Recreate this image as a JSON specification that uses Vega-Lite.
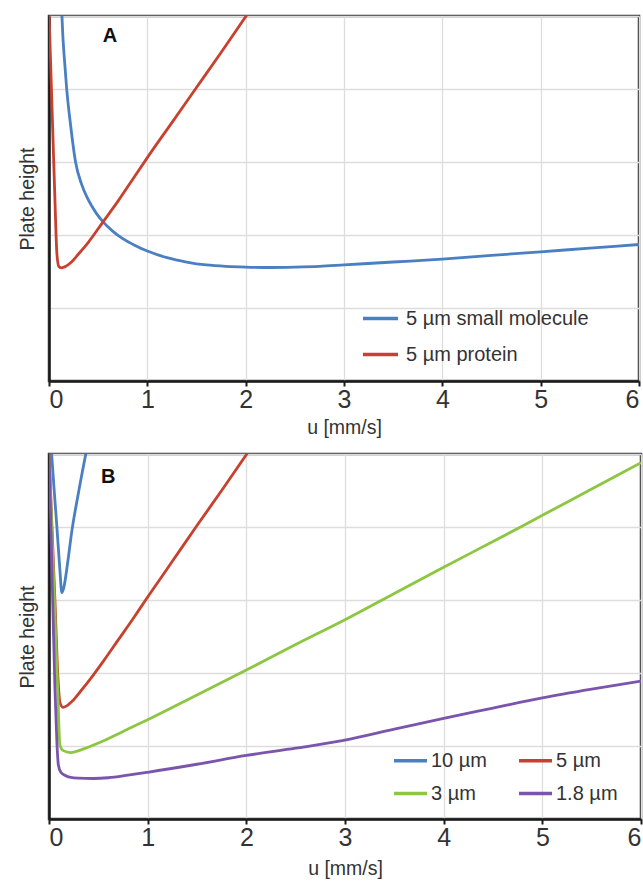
{
  "$schema": "https://vega.github.io/schema/vega-lite/v6.json",
  "padding": {"left": 15, "top": 14, "right": 2, "bottom": 0},
  "background": "white",
  "config": {
    "font": "Liberation Sans",
    "view": {"stroke": "#3a3a3a", "strokeWidth": 2.5},
    "axis": {
      "domainColor": "#1a1a1a", "domainWidth": 2.5,
      "gridColor": "#dddddd", "gridWidth": 1.3,
      "tickColor": "#1a1a1a", "tickWidth": 2, "tickSize": 5,
      "labelFont": "Liberation Sans", "labelFontSize": 25, "labelColor": "#333333", "labelPadding": 1,
      "titleFont": "Liberation Sans", "titleFontSize": 19.5, "titleFontWeight": "normal", "titleColor": "#333333"
    },
    "legend": {
      "labelFont": "Liberation Sans", "labelFontSize": 20, "labelColor": "#333333", "labelLimit": 400,
      "symbolType": "stroke", "symbolStrokeWidth": 3.5, "padding": 0, "title": null
    }
  },
  "datasets": {
    "curves": [
      {"panel": "A", "series": "5 µm small molecule", "u": 0.125, "H": 5.2},
      {"panel": "A", "series": "5 µm small molecule", "u": 0.14, "H": 4.75},
      {"panel": "A", "series": "5 µm small molecule", "u": 0.16, "H": 4.35},
      {"panel": "A", "series": "5 µm small molecule", "u": 0.18, "H": 4.0},
      {"panel": "A", "series": "5 µm small molecule", "u": 0.22, "H": 3.5},
      {"panel": "A", "series": "5 µm small molecule", "u": 0.27, "H": 3.0},
      {"panel": "A", "series": "5 µm small molecule", "u": 0.33, "H": 2.7},
      {"panel": "A", "series": "5 µm small molecule", "u": 0.4, "H": 2.48},
      {"panel": "A", "series": "5 µm small molecule", "u": 0.48, "H": 2.3},
      {"panel": "A", "series": "5 µm small molecule", "u": 0.55, "H": 2.18},
      {"panel": "A", "series": "5 µm small molecule", "u": 0.65, "H": 2.05},
      {"panel": "A", "series": "5 µm small molecule", "u": 0.75, "H": 1.95},
      {"panel": "A", "series": "5 µm small molecule", "u": 0.87, "H": 1.86},
      {"panel": "A", "series": "5 µm small molecule", "u": 1.0, "H": 1.78},
      {"panel": "A", "series": "5 µm small molecule", "u": 1.2, "H": 1.69},
      {"panel": "A", "series": "5 µm small molecule", "u": 1.4, "H": 1.63},
      {"panel": "A", "series": "5 µm small molecule", "u": 1.6, "H": 1.59},
      {"panel": "A", "series": "5 µm small molecule", "u": 1.8, "H": 1.57},
      {"panel": "A", "series": "5 µm small molecule", "u": 2.0, "H": 1.56},
      {"panel": "A", "series": "5 µm small molecule", "u": 2.25, "H": 1.555},
      {"panel": "A", "series": "5 µm small molecule", "u": 2.5, "H": 1.56},
      {"panel": "A", "series": "5 µm small molecule", "u": 2.75, "H": 1.57},
      {"panel": "A", "series": "5 µm small molecule", "u": 3.0, "H": 1.59},
      {"panel": "A", "series": "5 µm small molecule", "u": 3.5, "H": 1.63},
      {"panel": "A", "series": "5 µm small molecule", "u": 4.0, "H": 1.67},
      {"panel": "A", "series": "5 µm small molecule", "u": 4.5, "H": 1.72},
      {"panel": "A", "series": "5 µm small molecule", "u": 5.0, "H": 1.77},
      {"panel": "A", "series": "5 µm small molecule", "u": 5.5, "H": 1.82},
      {"panel": "A", "series": "5 µm small molecule", "u": 6.0, "H": 1.87},
      {"panel": "A", "series": "5 µm protein", "u": 0.0, "H": 5.05},
      {"panel": "A", "series": "5 µm protein", "u": 0.02, "H": 4.2},
      {"panel": "A", "series": "5 µm protein", "u": 0.04, "H": 3.35},
      {"panel": "A", "series": "5 µm protein", "u": 0.06, "H": 2.5},
      {"panel": "A", "series": "5 µm protein", "u": 0.08, "H": 1.75},
      {"panel": "A", "series": "5 µm protein", "u": 0.1, "H": 1.57},
      {"panel": "A", "series": "5 µm protein", "u": 0.13, "H": 1.55},
      {"panel": "A", "series": "5 µm protein", "u": 0.17, "H": 1.57},
      {"panel": "A", "series": "5 µm protein", "u": 0.22, "H": 1.62},
      {"panel": "A", "series": "5 µm protein", "u": 0.3, "H": 1.74},
      {"panel": "A", "series": "5 µm protein", "u": 0.4, "H": 1.9},
      {"panel": "A", "series": "5 µm protein", "u": 0.55, "H": 2.18},
      {"panel": "A", "series": "5 µm protein", "u": 0.7, "H": 2.46},
      {"panel": "A", "series": "5 µm protein", "u": 0.85, "H": 2.76},
      {"panel": "A", "series": "5 µm protein", "u": 1.0, "H": 3.06},
      {"panel": "A", "series": "5 µm protein", "u": 1.25, "H": 3.54},
      {"panel": "A", "series": "5 µm protein", "u": 1.5, "H": 4.02},
      {"panel": "A", "series": "5 µm protein", "u": 1.75, "H": 4.5},
      {"panel": "A", "series": "5 µm protein", "u": 2.03, "H": 5.05},
      {"panel": "B", "series": "10 µm", "u": 0.02, "H": 5.13},
      {"panel": "B", "series": "10 µm", "u": 0.05, "H": 4.55},
      {"panel": "B", "series": "10 µm", "u": 0.08, "H": 4.0},
      {"panel": "B", "series": "10 µm", "u": 0.11, "H": 3.42},
      {"panel": "B", "series": "10 µm", "u": 0.13, "H": 3.1},
      {"panel": "B", "series": "10 µm", "u": 0.15, "H": 3.17},
      {"panel": "B", "series": "10 µm", "u": 0.19, "H": 3.52},
      {"panel": "B", "series": "10 µm", "u": 0.23, "H": 3.93},
      {"panel": "B", "series": "10 µm", "u": 0.3, "H": 4.48},
      {"panel": "B", "series": "10 µm", "u": 0.38, "H": 5.05},
      {"panel": "B", "series": "5 µm", "u": 0.0, "H": 5.05},
      {"panel": "B", "series": "5 µm", "u": 0.03, "H": 4.0},
      {"panel": "B", "series": "5 µm", "u": 0.06, "H": 3.0},
      {"panel": "B", "series": "5 µm", "u": 0.09, "H": 1.95},
      {"panel": "B", "series": "5 µm", "u": 0.11, "H": 1.6},
      {"panel": "B", "series": "5 µm", "u": 0.14, "H": 1.53},
      {"panel": "B", "series": "5 µm", "u": 0.18, "H": 1.55},
      {"panel": "B", "series": "5 µm", "u": 0.24, "H": 1.62},
      {"panel": "B", "series": "5 µm", "u": 0.32, "H": 1.75},
      {"panel": "B", "series": "5 µm", "u": 0.42, "H": 1.92},
      {"panel": "B", "series": "5 µm", "u": 0.55, "H": 2.16},
      {"panel": "B", "series": "5 µm", "u": 0.7, "H": 2.45},
      {"panel": "B", "series": "5 µm", "u": 0.85, "H": 2.74},
      {"panel": "B", "series": "5 µm", "u": 1.0, "H": 3.04},
      {"panel": "B", "series": "5 µm", "u": 1.25, "H": 3.53},
      {"panel": "B", "series": "5 µm", "u": 1.5, "H": 4.02},
      {"panel": "B", "series": "5 µm", "u": 1.75, "H": 4.5},
      {"panel": "B", "series": "5 µm", "u": 2.02, "H": 5.03},
      {"panel": "B", "series": "3 µm", "u": 0.0, "H": 5.05},
      {"panel": "B", "series": "3 µm", "u": 0.03, "H": 3.9},
      {"panel": "B", "series": "3 µm", "u": 0.06, "H": 2.8},
      {"panel": "B", "series": "3 µm", "u": 0.09, "H": 1.7},
      {"panel": "B", "series": "3 µm", "u": 0.11, "H": 1.02},
      {"panel": "B", "series": "3 µm", "u": 0.14, "H": 0.94},
      {"panel": "B", "series": "3 µm", "u": 0.22, "H": 0.91},
      {"panel": "B", "series": "3 µm", "u": 0.33, "H": 0.95},
      {"panel": "B", "series": "3 µm", "u": 0.5, "H": 1.04},
      {"panel": "B", "series": "3 µm", "u": 0.75, "H": 1.2},
      {"panel": "B", "series": "3 µm", "u": 1.0, "H": 1.36},
      {"panel": "B", "series": "3 µm", "u": 1.5, "H": 1.7},
      {"panel": "B", "series": "3 µm", "u": 2.0, "H": 2.04},
      {"panel": "B", "series": "3 µm", "u": 2.5, "H": 2.39},
      {"panel": "B", "series": "3 µm", "u": 3.0, "H": 2.73},
      {"panel": "B", "series": "3 µm", "u": 3.5, "H": 3.09},
      {"panel": "B", "series": "3 µm", "u": 4.0, "H": 3.45},
      {"panel": "B", "series": "3 µm", "u": 4.5, "H": 3.8},
      {"panel": "B", "series": "3 µm", "u": 5.0, "H": 4.16},
      {"panel": "B", "series": "3 µm", "u": 5.5, "H": 4.52},
      {"panel": "B", "series": "3 µm", "u": 6.0, "H": 4.88},
      {"panel": "B", "series": "1.8 µm", "u": 0.0, "H": 5.05},
      {"panel": "B", "series": "1.8 µm", "u": 0.03, "H": 3.4},
      {"panel": "B", "series": "1.8 µm", "u": 0.06, "H": 1.8},
      {"panel": "B", "series": "1.8 µm", "u": 0.08, "H": 1.05},
      {"panel": "B", "series": "1.8 µm", "u": 0.095, "H": 0.74},
      {"panel": "B", "series": "1.8 µm", "u": 0.12, "H": 0.64},
      {"panel": "B", "series": "1.8 µm", "u": 0.16, "H": 0.6},
      {"panel": "B", "series": "1.8 µm", "u": 0.22, "H": 0.57},
      {"panel": "B", "series": "1.8 µm", "u": 0.3, "H": 0.56},
      {"panel": "B", "series": "1.8 µm", "u": 0.45, "H": 0.555},
      {"panel": "B", "series": "1.8 µm", "u": 0.6, "H": 0.565},
      {"panel": "B", "series": "1.8 µm", "u": 0.8, "H": 0.6},
      {"panel": "B", "series": "1.8 µm", "u": 1.0, "H": 0.64},
      {"panel": "B", "series": "1.8 µm", "u": 1.5, "H": 0.75},
      {"panel": "B", "series": "1.8 µm", "u": 2.0, "H": 0.87},
      {"panel": "B", "series": "1.8 µm", "u": 2.5, "H": 0.97},
      {"panel": "B", "series": "1.8 µm", "u": 3.0, "H": 1.08},
      {"panel": "B", "series": "1.8 µm", "u": 3.5, "H": 1.23},
      {"panel": "B", "series": "1.8 µm", "u": 4.0, "H": 1.38},
      {"panel": "B", "series": "1.8 µm", "u": 4.5, "H": 1.52},
      {"panel": "B", "series": "1.8 µm", "u": 5.0, "H": 1.66},
      {"panel": "B", "series": "1.8 µm", "u": 5.5, "H": 1.78},
      {"panel": "B", "series": "1.8 µm", "u": 6.0, "H": 1.89}
    ],
    "labels": [
      {"panel": "A", "u": 0.62, "H": 4.72, "t": "A"},
      {"panel": "B", "u": 0.6, "H": 4.68, "t": "B"}
    ]
  },
  "spacing": 14,
  "resolve": {"scale": {"color": "independent", "x": "independent", "y": "independent"}, "legend": {"color": "independent"}},
  "vconcat": [
    {
      "width": 590,
      "height": 365,
      "layer": [
        {
          "data": {"name": "curves"},
          "transform": [{"filter": "datum.panel === 'A'"}],
          "mark": {"type": "line", "strokeWidth": 2.8, "clip": true, "interpolate": "monotone"},
          "encoding": {
            "x": {"field": "u", "type": "quantitative", "scale": {"domain": [0, 6], "nice": false},
                  "axis": {"title": "u [mm/s]", "values": [0, 1, 2, 3, 4, 5, 6], "format": "d", "grid": true, "titlePadding": 6}},
            "y": {"field": "H", "type": "quantitative", "scale": {"domain": [0, 5], "nice": false},
                  "axis": {"title": "Plate height", "values": [0, 1, 2, 3, 4, 5], "labels": false, "ticks": false, "grid": true, "titlePadding": 12}},
            "color": {"field": "series", "type": "nominal",
                      "scale": {"domain": ["5 µm small molecule", "5 µm protein"], "range": ["#4a7fc1", "#c8402e"]},
                      "legend": {"orient": "none", "legendX": 312, "legendY": 283, "symbolSize": 1225, "labelOffset": 6, "rowPadding": 6}}
          }
        },
        {
          "data": {"name": "labels"},
          "transform": [{"filter": "datum.panel === 'A'"}],
          "mark": {"type": "text", "fontSize": 20, "fontWeight": "bold", "font": "Liberation Sans", "align": "center", "baseline": "middle", "color": "#111111"},
          "encoding": {
            "x": {"field": "u", "type": "quantitative"},
            "y": {"field": "H", "type": "quantitative"},
            "text": {"field": "t"}
          }
        }
      ]
    },
    {
      "width": 592,
      "height": 365,
      "layer": [
        {
          "data": {"name": "curves"},
          "transform": [{"filter": "datum.panel === 'B'"}],
          "mark": {"type": "line", "strokeWidth": 2.8, "clip": true, "interpolate": "monotone"},
          "encoding": {
            "x": {"field": "u", "type": "quantitative", "scale": {"domain": [0, 6], "nice": false},
                  "axis": {"title": "u [mm/s]", "values": [0, 1, 2, 3, 4, 5, 6], "format": "d", "grid": true, "titlePadding": 9}},
            "y": {"field": "H", "type": "quantitative", "scale": {"domain": [0, 5], "nice": false},
                  "axis": {"title": "Plate height", "values": [0, 1, 2, 3, 4, 5], "labels": false, "ticks": false, "grid": true, "titlePadding": 12}},
            "color": {"field": "series", "type": "nominal",
                      "scale": {"domain": ["10 µm", "3 µm", "5 µm", "1.8 µm"], "range": ["#4a7fc1", "#8dc641", "#c8402e", "#7b55ad"]},
                      "legend": {"orient": "none", "legendX": 343, "legendY": 288, "columns": 2, "symbolSize": 1089, "labelOffset": 2, "columnPadding": 25, "rowPadding": 4}}
          }
        },
        {
          "data": {"name": "labels"},
          "transform": [{"filter": "datum.panel === 'B'"}],
          "mark": {"type": "text", "fontSize": 20, "fontWeight": "bold", "font": "Liberation Sans", "align": "center", "baseline": "middle", "color": "#111111"},
          "encoding": {
            "x": {"field": "u", "type": "quantitative"},
            "y": {"field": "H", "type": "quantitative"},
            "text": {"field": "t"}
          }
        }
      ]
    }
  ]
}
